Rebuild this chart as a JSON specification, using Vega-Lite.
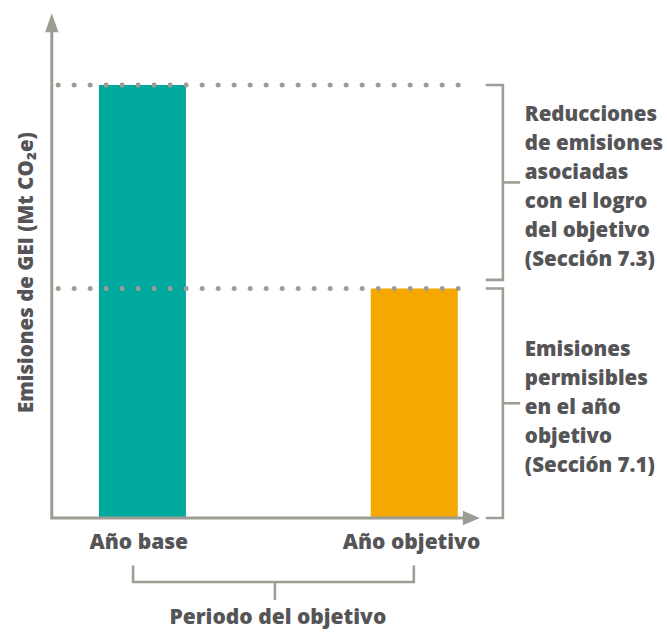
{
  "$schema": "https://vega.github.io/schema/vega-lite/v6.json",
  "width": 667,
  "height": 632,
  "autosize": {"type": "fit", "contains": "padding"},
  "padding": 0,
  "background": "white",
  "config": {
    "view": {"stroke": null},
    "text": {"font": "Open Sans", "fontWeight": 800, "fontSize": 21, "color": "#555557"}
  },
  "datasets": {
    "barras": [
      {"periodo": "Año base", "t": 1, "emisiones": 100},
      {"periodo": "Año objetivo", "t": 4, "emisiones": 53}
    ],
    "niveles": [
      {"nivel": "Año base", "t0": 0.07, "t1": 4.61, "emisiones": 100},
      {"nivel": "Año objetivo", "t0": 0.07, "t1": 4.61, "emisiones": 53}
    ],
    "ejes": [
      {"k": 1, "t": 0, "v": 113},
      {"k": 2, "t": 0, "v": 0},
      {"k": 3, "t": 4.55, "v": 0}
    ],
    "flechaY": [{"t": 0, "v": 114.4}],
    "flechaX": [{"t": 4.63, "v": 0}],
    "corchetes": [
      {"id": "r1", "k": 1, "t": 4.788, "v": 100},
      {"id": "r1", "k": 2, "t": 4.978, "v": 100},
      {"id": "r1", "k": 3, "t": 4.978, "v": 55},
      {"id": "r1", "k": 4, "t": 4.788, "v": 55},
      {"id": "r1m", "k": 1, "t": 4.978, "v": 77.5},
      {"id": "r1m", "k": 2, "t": 5.168, "v": 77.5},
      {"id": "r2", "k": 1, "t": 4.788, "v": 53},
      {"id": "r2", "k": 2, "t": 4.978, "v": 53},
      {"id": "r2", "k": 3, "t": 4.978, "v": 0},
      {"id": "r2", "k": 4, "t": 4.788, "v": 0},
      {"id": "r2m", "k": 1, "t": 4.978, "v": 26.5},
      {"id": "r2m", "k": 2, "t": 5.168, "v": 26.5},
      {"id": "b", "k": 1, "t": 0.897, "v": -10.97},
      {"id": "b", "k": 2, "t": 0.897, "v": -14.78},
      {"id": "b", "k": 3, "t": 3.995, "v": -14.78},
      {"id": "b", "k": 4, "t": 3.995, "v": -10.97},
      {"id": "bm", "k": 1, "t": 2.462, "v": -14.78},
      {"id": "bm", "k": 2, "t": 2.462, "v": -18.94}
    ],
    "etiquetas": [
      {"texto": "Año base", "t": 0.96, "v": -5.8},
      {"texto": "Año objetivo", "t": 3.97, "v": -5.8},
      {"texto": "Periodo del objetivo", "t": 2.495, "v": -23.1}
    ],
    "notas": [
      {"texto": "Reducciones\nde emisiones\nasociadas\ncon el logro\ndel objetivo\n(Sección 7.3)", "t": 5.22, "v": 93.1},
      {"texto": "Emisiones\npermisibles\nen el año\nobjetivo\n(Sección 7.1)", "t": 5.22, "v": 38.8}
    ],
    "tituloY": [{"texto": "Emisiones de GEI (Mt CO₂e)", "t": -0.277, "v": 56.7}]
  },
  "layer": [
    {
      "data": {"name": "barras"},
      "mark": {"type": "bar", "width": 87},
      "encoding": {
        "x": {"field": "t", "type": "quantitative", "scale": {"domain": [-0.5163, 6.7337], "nice": false, "zero": false}, "axis": null},
        "y": {"field": "emisiones", "type": "quantitative", "scale": {"domain": [-26.33, 119.63], "nice": false, "zero": false}, "axis": null},
        "y2": {"datum": 0},
        "color": {"field": "periodo", "type": "nominal", "scale": {"domain": ["Año base", "Año objetivo"], "range": ["#00A99D", "#F5A800"]}, "legend": null}
      }
    },
    {
      "data": {"name": "niveles"},
      "mark": {"type": "rule", "color": "#9d9d94", "strokeWidth": 5, "strokeDash": [0, 16], "strokeCap": "round"},
      "encoding": {
        "x": {"field": "t0", "type": "quantitative"},
        "x2": {"field": "t1"},
        "y": {"field": "emisiones", "type": "quantitative"}
      }
    },
    {
      "data": {"name": "ejes"},
      "mark": {"type": "line", "color": "#9d9d94", "strokeWidth": 3, "strokeJoin": "miter"},
      "encoding": {
        "x": {"field": "t", "type": "quantitative"},
        "y": {"field": "v", "type": "quantitative"},
        "order": {"field": "k", "type": "quantitative"}
      }
    },
    {
      "data": {"name": "corchetes"},
      "mark": {"type": "line", "color": "#9d9d94", "strokeWidth": 2.6, "strokeJoin": "miter"},
      "encoding": {
        "x": {"field": "t", "type": "quantitative"},
        "y": {"field": "v", "type": "quantitative"},
        "detail": {"field": "id", "type": "nominal"},
        "order": {"field": "k", "type": "quantitative"}
      }
    },
    {
      "data": {"name": "flechaY"},
      "mark": {"type": "point", "shape": "M0,-1L-0.7,1L0.7,1Z", "size": 361, "filled": true, "opacity": 1, "color": "#9d9d94"},
      "encoding": {
        "x": {"field": "t", "type": "quantitative"},
        "y": {"field": "v", "type": "quantitative"}
      }
    },
    {
      "data": {"name": "flechaX"},
      "mark": {"type": "point", "shape": "M1,0L-1,-0.85L-1,0.85Z", "size": 289, "filled": true, "opacity": 1, "color": "#9d9d94"},
      "encoding": {
        "x": {"field": "t", "type": "quantitative"},
        "y": {"field": "v", "type": "quantitative"}
      }
    },
    {
      "data": {"name": "etiquetas"},
      "mark": {"type": "text", "align": "center", "baseline": "middle"},
      "encoding": {
        "x": {"field": "t", "type": "quantitative"},
        "y": {"field": "v", "type": "quantitative"},
        "text": {"field": "texto"}
      }
    },
    {
      "data": {"name": "notas"},
      "mark": {"type": "text", "align": "left", "baseline": "middle", "lineBreak": "\n", "lineHeight": 29, "fontSize": 20.5},
      "encoding": {
        "x": {"field": "t", "type": "quantitative"},
        "y": {"field": "v", "type": "quantitative"},
        "text": {"field": "texto"}
      }
    },
    {
      "data": {"name": "tituloY"},
      "mark": {"type": "text", "align": "center", "baseline": "middle", "angle": 270, "fontSize": 20.5},
      "encoding": {
        "x": {"field": "t", "type": "quantitative"},
        "y": {"field": "v", "type": "quantitative"},
        "text": {"field": "texto"}
      }
    }
  ]
}
